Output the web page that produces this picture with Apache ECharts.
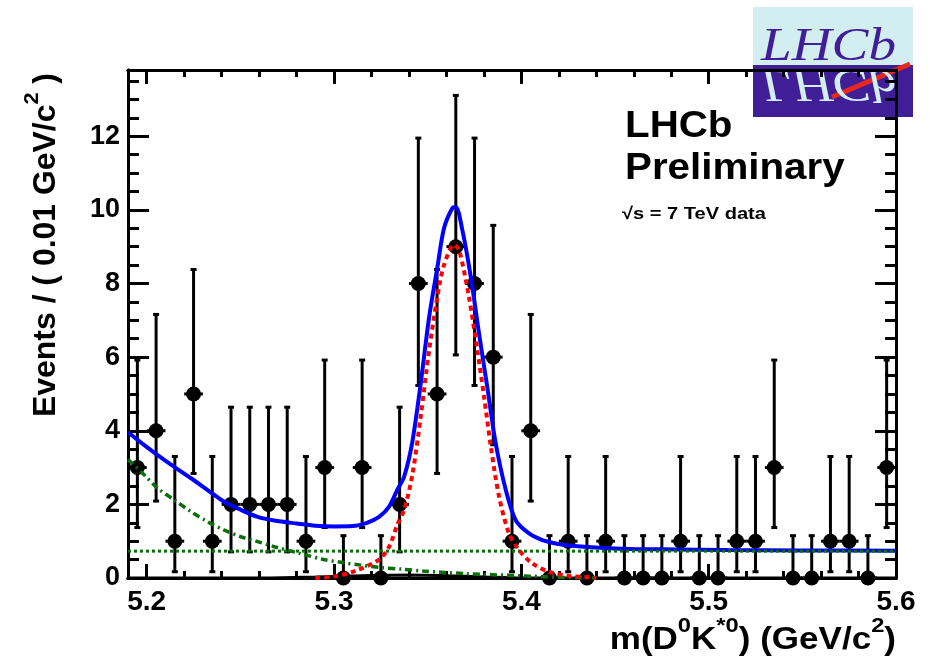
<!DOCTYPE html>
<html><head><meta charset="utf-8">
<script src="https://cdn.jsdelivr.net/npm/echarts@6/dist/echarts.min.js"></script>
<style>html,body{margin:0;padding:0;background:#fff}#c{width:930px;height:659px}</style>
</head><body><div id="c"></div>
<script>
// ---------- data ----------
const binCenters = [5.195,5.205,5.215,5.225,5.235,5.245,5.255,5.265,5.275,5.285,5.295,5.305,5.315,5.325,5.335,5.345,5.355,5.365,5.375,5.385,5.395,5.405,5.415,5.425,5.435,5.445,5.455,5.465,5.475,5.485,5.495,5.505,5.515,5.525,5.535,5.545,5.555,5.565,5.575,5.585,5.595];
const counts = [3,4,1,5,1,2,2,2,2,1,3,0,3,0,2,8,5,9,8,6,1,4,0,1,0,1,0,0,0,1,0,0,1,1,3,0,0,1,1,0,3];
const errLow = [1.37,2.09,0.17,2.84,0.17,0.71,0.71,0.71,0.71,0.17,1.37,0,1.37,0,0.71,5.23,2.84,6.06,5.23,3.62,0.17,2.09,0,0.17,0,0.17,0,0,0,0.17,0,0,0.17,0.17,1.37,0,0,0.17,0.17,0,1.37];
const errHigh = [5.92,7.16,3.30,8.38,3.30,4.64,4.64,4.64,4.64,3.30,5.92,1.15,5.92,1.15,4.64,11.95,8.38,13.11,11.95,9.58,3.30,7.16,1.15,3.30,1.15,3.30,1.15,1.15,1.15,3.30,1.15,1.15,3.30,3.30,5.92,1.15,1.15,3.30,3.30,1.15,5.92];
const binHalfWidth = 0.005;

// total fit (blue)
const totalX = [5.190,5.1987,5.2058,5.2147,5.2237,5.2325,5.2414,5.2503,5.2592,5.2681,5.280,5.290,5.300,5.310,5.3175,5.3240,5.3294,5.3338,5.3374,5.3418,5.3463,5.3508,5.3552,5.3587,5.3632,5.3650,5.3685,5.3730,5.3774,5.3818,5.3863,5.3917,5.3970,5.4041,5.4112,5.4201,5.4254,5.4397,5.4574,5.475,5.510,5.550,5.600];
const totalY = [3.96,3.61,3.34,3.02,2.71,2.39,2.07,1.85,1.66,1.56,1.48,1.42,1.40,1.41,1.50,1.66,1.94,2.40,2.75,3.70,5.30,7.10,8.45,9.50,10.05,10.08,9.45,8.18,6.64,5.19,3.66,2.39,1.57,1.21,1.03,0.92,0.88,0.83,0.79,0.78,0.76,0.75,0.74];
// signal (red dashed)
const signalX = [5.290,5.300,5.3117,5.3240,5.3294,5.3338,5.3374,5.3418,5.3463,5.3508,5.3552,5.3587,5.3641,5.3668,5.3720,5.3765,5.3801,5.3837,5.3881,5.3934,5.3987,5.4058,5.4147,5.425,5.440];
const signalY = [0,0.04,0.20,0.50,0.85,1.45,1.85,2.80,4.40,6.20,7.65,8.50,9.05,8.90,7.64,6.19,4.92,3.57,2.21,1.21,0.76,0.40,0.17,0.06,0.01];
// partially reconstructed background (green dash-dot)
const partRecoX = [5.190,5.1987,5.2058,5.2147,5.2237,5.2325,5.2414,5.2503,5.2592,5.2681,5.2823,5.2938,5.3045,5.3143,5.3258,5.3365,5.3472,5.370,5.400,5.420,5.440];
const partRecoY = [3.22,2.80,2.44,2.12,1.80,1.53,1.30,1.12,0.99,0.85,0.66,0.51,0.42,0.35,0.28,0.24,0.19,0.12,0.06,0.02,0];
// combinatorial background (green dotted)
const combX = [5.190,5.600];
const combY = [0.73,0.73];
// other background (black solid)
const otherX = [5.190,5.260,5.290,5.320,5.340,5.360,5.380,5.400,5.600];
const otherY = [0,0,0.03,0.07,0.08,0.06,0.03,0,0];

const xMajor = [5.2,5.3,5.4,5.5,5.6];
const xMinor = [5.22,5.24,5.26,5.28,5.32,5.34,5.36,5.38,5.42,5.44,5.46,5.48,5.52,5.54,5.56,5.58];
const yMajor = [0,2,4,6,8,10,12];
const yMinor = [0.5,1,1.5,2.5,3,3.5,4.5,5,5.5,6.5,7,7.5,8.5,9,9.5,10.5,11,11.5,12.5,13,13.5];

// ---------- chart ----------
const FONT = "'Liberation Sans', Arial, Helvetica, sans-serif";
const chart = echarts.init(document.getElementById('c'), null, {renderer:'canvas'});
const X0 = 5.19, X1 = 5.6, Y0 = 0, Y1 = 13.8;

function xAx(pos, values, len, labels){
  return {type:'value', position:pos, min:X0, max:X1, gridIndex:0,
    axisLine:{show:true, onZero:false, lineStyle:{color:'#000', width:3}},
    axisTick:{show:true, inside:true, length:len, customValues:values, lineStyle:{color:'#000', width:3}},
    axisLabel:{show:labels, customValues:values, margin:10, color:'#000', fontSize:28, fontWeight:'bold', fontFamily:FONT},
    splitLine:{show:false}, minorTick:{show:false}};
}
function yAx(pos, values, len, labels){
  return {type:'value', position:pos, min:Y0, max:Y1, gridIndex:0,
    axisLine:{show:true, onZero:false, lineStyle:{color:'#000', width:3}},
    axisTick:{show:true, inside:true, length:len, customValues:values, lineStyle:{color:'#000', width:3}},
    axisLabel:{show:labels, customValues:values, margin:8, color:'#000', fontSize:27, fontWeight:'bold', fontFamily:FONT},
    splitLine:{show:false}, minorTick:{show:false}};
}

const dataPts = binCenters.map((x,i)=>[x, counts[i], errLow[i], errHigh[i]]);
const pair = (xs,ys)=>xs.map((x,i)=>[x,ys[i]]);

const titleRich = {
  n:{fontSize:31, fontWeight:'bold', fontFamily:FONT, fill:'#000', lineHeight:40, verticalAlign:'bottom'},
  sup:{fontSize:21, fontWeight:'bold', fontFamily:FONT, fill:'#000', lineHeight:22, verticalAlign:'top'}
};

const option = {
  animation:false,
  backgroundColor:'#fff',
  grid:{left:128, right:34, top:70, bottom:81, containLabel:false},
  xAxis:[xAx('bottom',xMajor,14,true), xAx('bottom',xMinor,7,false), xAx('top',xMajor,14,false), xAx('top',xMinor,7,false)],
  yAxis:[yAx('left',yMajor,21,true), yAx('left',yMinor,11,false), yAx('right',yMajor,21,false), yAx('right',yMinor,11,false)],
  series:[
    {type:'custom', xAxisIndex:0, yAxisIndex:0, z:2, clip:false, data:dataPts,
     renderItem:function(params, api){
       const x=api.value(0), y=api.value(1), lo=api.value(2), hi=api.value(3);
       const pC=api.coord([x,y]), pLo=api.coord([x,lo]), pHi=api.coord([x,hi]);
       const pL=api.coord([x-binHalfWidth,y]), pR=api.coord([x+binHalfWidth,y]);
       const st={stroke:'#000', lineWidth:3};
       const cap=3;
       const ch=[
         {type:'line', shape:{x1:pC[0],y1:pLo[1],x2:pC[0],y2:pHi[1]}, style:st},
         {type:'line', shape:{x1:pL[0],y1:pC[1],x2:pR[0],y2:pC[1]}, style:st},
         {type:'line', shape:{x1:pC[0]-cap,y1:pHi[1],x2:pC[0]+cap,y2:pHi[1]}, style:st}
       ];
       if(lo>0) ch.push({type:'line', shape:{x1:pC[0]-cap,y1:pLo[1],x2:pC[0]+cap,y2:pLo[1]}, style:st});
       ch.push({type:'circle', shape:{cx:pC[0],cy:pC[1],r:7.5}, style:{fill:'#000'}});
       return {type:'group', children:ch};
     }},
    {type:'line', name:'total', data:pair(totalX,totalY), smooth:0.3, symbol:'none', z:3,
     lineStyle:{color:'#0000ff', width:4}},
    {type:'line', name:'other', data:pair(otherX,otherY), smooth:0.3, symbol:'none', z:4,
     lineStyle:{color:'#000', width:3}},
    {type:'line', name:'comb', data:pair(combX,combY), symbol:'none', z:4,
     lineStyle:{color:'#0a6e0a', width:3, type:[3,3]}},
    {type:'line', name:'partreco', data:pair(partRecoX,partRecoY), smooth:0.3, symbol:'none', z:4,
     lineStyle:{color:'#0a6e0a', width:3.5, type:[7,4,2,4]}},
    {type:'line', name:'signal', data:pair(signalX,signalY), smooth:0.3, symbol:'none', z:5,
     lineStyle:{color:'#ff0000', width:4, type:[5,4]}}
  ],
  graphic:[
    {type:'text', x:625, y:127, scaleX:1.12, style:{text:'LHCb', fontSize:36, fontWeight:'bold', fontFamily:FONT, fill:'#000', textAlign:'left', textVerticalAlign:'middle'}},
    {type:'text', x:625, y:169, scaleX:1.12, style:{text:'Preliminary', fontSize:36, fontWeight:'bold', fontFamily:FONT, fill:'#000', textAlign:'left', textVerticalAlign:'middle'}},
    {type:'text', x:622, y:214, scaleX:1.18, style:{text:'\u221As = 7 TeV data', fontSize:17, fontWeight:'bold', fontFamily:FONT, fill:'#000', textAlign:'left', textVerticalAlign:'middle'}},
    {type:'text', x:42, y:245, rotation:Math.PI/2, scaleX:1.03, style:{text:'{n|Events / ( 0.01 GeV/c}{sup|2}{n| )}', textAlign:'center', textVerticalAlign:'middle', rich:titleRich}},
    {type:'text', x:896, y:636, scaleX:1.13, style:{text:'{n|m(D}{sup|0}{n|K}{sup|*0}{n|) (GeV/c}{sup|2}{n|)}', textAlign:'right', textVerticalAlign:'middle', rich:titleRich}},
    // LHCb logo
    {type:'group', z:10, children:[
      {type:'rect', shape:{x:753,y:7,width:160,height:58}, style:{fill:'#d3eef0'}},
      {type:'rect', shape:{x:753,y:65,width:160,height:52}, style:{fill:'#3f1e97'}},
      {type:'line', shape:{x1:832,y1:97,x2:910,y2:64}, style:{stroke:'#e8281e', lineWidth:5}},
      {type:'text', x:761, y:48, scaleX:1.2, style:{text:'LHCb', font:'italic 46px "Liberation Serif", "DejaVu Serif", serif', fill:'#3f1e97', textAlign:'left', textVerticalAlign:'middle'}},
      {type:'text', x:761, y:82, scaleX:1.2, scaleY:-1, style:{text:'LHCb', font:'italic 46px "Liberation Serif", "DejaVu Serif", serif', fill:'#d3eef0', textAlign:'left', textVerticalAlign:'middle'}}
    ]}
  ]
};
chart.setOption(option);
</script></body></html>
